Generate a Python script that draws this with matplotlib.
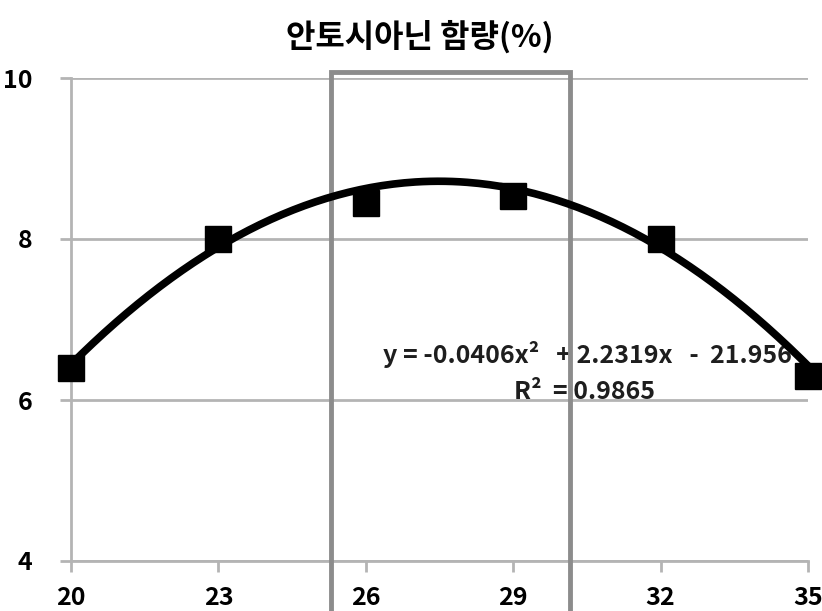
import matplotlib
matplotlib.use("Agg")
import matplotlib.pyplot as plt
from matplotlib.patches import Rectangle
import numpy as np

plt.rcParams['font.family'] = ['Noto Sans CJK KR', 'DejaVu Sans']

# data
temps = [20, 23, 26, 29, 32, 35]
anthocyanin = [6.40, 8.00, 8.45, 8.54, 8.00, 6.30]
# trendline coefficients as printed on the chart (a*x^2 + b*x + c)
coef_a = -0.0406
coef_b = 2.2319
coef_c = -21.956
r_squared = 0.9865
title = "안토시아닌 함량(%)"
y_ticks = [4, 6, 8, 10]
box_x = [25.3, 30.15]   # highlighted temperature range

grid_col = "#b4b4b4"
box_col = "#8c8c8c"

fig = plt.figure(figsize=(8.22, 6.11), dpi=100)
ax = fig.add_axes([71 / 822, 50 / 611, (808 - 71) / 822, (561 - 78) / 611])

# trendline
xs = np.linspace(temps[0], temps[-1], 200)
ys = np.polyval([coef_a, coef_b, coef_c], xs)
ax.plot(xs, ys, color="black", linewidth=5.5, zorder=4, clip_on=False,
        solid_capstyle="butt")

# data points
ax.plot(temps, anthocyanin, linestyle="none", marker="s", markersize=19,
        color="black", zorder=5, clip_on=False)

# highlight box
ax.add_patch(Rectangle((box_x[0], 3.2), box_x[1] - box_x[0], 10.08 - 3.2,
                       fill=False, edgecolor=box_col, linewidth=3.5,
                       zorder=3, clip_on=False))

# equation text
ax.text(26.35, 6.56,
        f"y = {coef_a:.4f}x²   + {coef_b:.4f}x   -  {abs(coef_c):.3f}",
        fontsize=18, fontweight="bold", ha="left", va="center", zorder=2,
        color="#1e1e1e")
ax.text(29.02, 6.10, f"R²  = {r_squared:.4f}",
        fontsize=18, fontweight="bold", ha="left", va="center", zorder=2,
        color="#1e1e1e")

ax.set_xlim(20, 35)
ax.set_ylim(4, 10)
ax.set_xticks(temps)
ax.set_xticklabels([str(t) for t in temps], fontsize=18, fontweight="bold")
ax.set_yticks(y_ticks)
ax.set_yticklabels([str(v) for v in y_ticks], fontsize=18, fontweight="bold")

ax.yaxis.grid(True, color=grid_col, linewidth=2)
ax.set_axisbelow(True)

for side in ["top", "right"]:
    ax.spines[side].set_visible(False)
for side in ["left", "bottom"]:
    ax.spines[side].set_color(grid_col)
    ax.spines[side].set_linewidth(2)

ax.tick_params(axis="x", direction="out", length=8, width=2, color=grid_col,
               pad=10)
ax.tick_params(axis="y", direction="out", length=8, width=2, color=grid_col,
               pad=20)

fig.text(420 / 822, 1 - 37 / 611, title, fontsize=23, fontweight="bold",
         ha="center", va="center")

fig.savefig("out.png", dpi=100)
